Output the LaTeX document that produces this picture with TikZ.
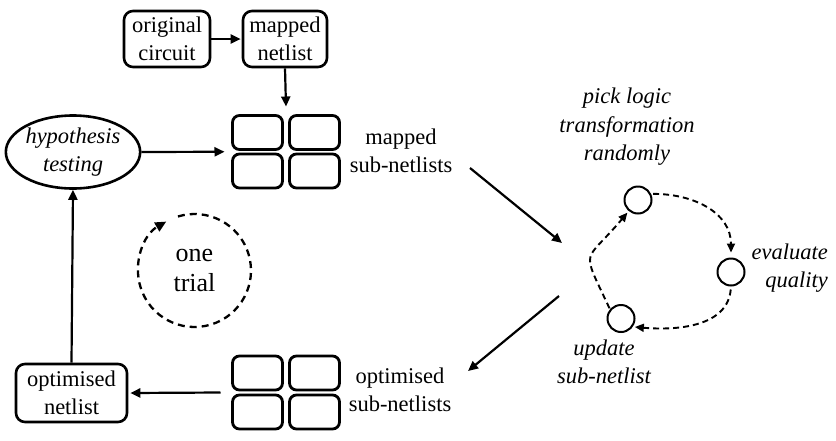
\documentclass[tikz,border=0pt]{standalone}
\usepackage{fontspec}
\setmainfont{Liberation Serif}
\usetikzlibrary{arrows.meta,shapes.geometric,fit}
\begin{document}
\begin{tikzpicture}[x=1pt,y=1pt,
  txt/.style={font=\fontsize{22.5}{28.5}\selectfont, align=center, inner sep=0pt},
  itxt/.style={font=\fontsize{22.5}{28.5}\selectfont\itshape, align=center, inner sep=0pt},
  rbox/.style={draw, line width=2.6pt, rounded corners=9pt, inner sep=0pt, align=center,
    font=\fontsize{22.5}{28.5}\selectfont},
  cell/.style={draw, line width=2.8pt, rounded corners=7pt, minimum width=50pt, minimum height=34pt, inner sep=0pt},
  arr/.style={line width=2.2pt, -{Triangle[length=10pt,width=9pt]}},
  darr/.style={line width=1.9pt, dash pattern=on 6pt off 4pt, -{Triangle[length=9pt,width=8pt]}},
  dot/.style={draw, circle, line width=2pt, minimum size=27pt, inner sep=0pt}]
\useasboundingbox (0,0) rectangle (836,-440);

% top boxes
\node[rbox, minimum width=86pt, minimum height=56pt] (orig) at (167,-39) {original\\circuit};
\node[rbox, minimum width=84pt, minimum height=56pt] (mapped) at (285,-39) {mapped\\netlist};

% mapped sub-netlists grid
\node[cell] (a1) at (257.5,-132.5) {};
\node[cell] (a2) at (314.5,-132.5) {};
\node[cell] (a3) at (257.5,-171) {};
\node[cell] (a4) at (314.5,-171) {};
\node[fit=(a1)(a4), inner sep=1.4pt] (gridA) {};
\node[txt] (labA) at (401,-151) {mapped\\sub-netlists};

% optimised sub-netlists grid
\node[cell] (b1) at (257.5,-373) {};
\node[cell] (b2) at (314.5,-373) {};
\node[cell] (b3) at (257.5,-412) {};
\node[cell] (b4) at (314.5,-412) {};
\node[fit=(b1)(b4), inner sep=1.4pt] (gridB) {};
\node[txt] (labB) at (400,-390) {optimised\\sub-netlists};

% hypothesis testing
\node[draw, ellipse, line width=2.6pt, minimum width=126pt, minimum height=73pt, inner sep=0pt,
  font=\fontsize{22.5}{28.5}\selectfont\itshape, align=center] (hyp) at (73,-152) {hypothesis\\testing};

% optimised netlist
\node[rbox, minimum width=111pt, minimum height=58pt] (opt) at (71.5,-393) {optimised\\netlist};

% one trial
\node[font=\fontsize{26}{30}\selectfont, align=center, inner sep=0pt] (trial) at (194.5,-270.5) {one\\trial};
\draw[line width=2.3pt, dash pattern=on 7pt off 5pt, -{Triangle[length=11pt,width=10pt]}]
  (trial.center) ++(107:56.5) arc[start angle=107, end angle=-240, radius=56.5];

% right cycle
\node[dot] (pick) at (638,-200) {};
\node[dot] (eval) at (731,-272) {};
\node[dot] (upd) at (621,-318.5) {};
\node[itxt] (pickT) at (627,-127) {pick logic\\transformation\\randomly};
\node[itxt, align=right, anchor=east] (evalT) at (828,-268) {evaluate\\quality};
\node[itxt] (updT) at (604,-362) {update\\sub-netlist};

\coordinate (c1s) at (470,-168);
\coordinate (c1e) at (562,-243);
\coordinate (c2s) at (559,-296);
\coordinate (c2e) at (468,-371);

% connectors
\draw[arr] (orig.east) -- ([xshift=-1pt]mapped.west);
\draw[arr] (mapped.south) -- ([yshift=6pt]gridA.north);
\draw[arr] (hyp.east) -- ([xshift=-5pt]gridA.west);
\draw[arr] ([xshift=-9pt]gridB.west) -- ([xshift=2pt]opt.east);
\draw[arr] (opt.north) -- (hyp.south);
\draw[arr] (c1s) -- (c1e);
\draw[arr] (c2s) -- (c2e);

\draw[darr, shorten <=2pt, shorten >=5pt] (pick.25) to[out=0, in=90, looseness=1.1] (eval.north);
\draw[darr, shorten <=3pt, shorten >=2pt] (eval.south) to[out=-95, in=-5, looseness=1.0] (upd.-35);
\draw[darr, shorten <=1pt, shorten >=2pt] (upd.140) to[out=115, in=-130, looseness=1.8] (pick.-130);
\end{tikzpicture}
\end{document}
